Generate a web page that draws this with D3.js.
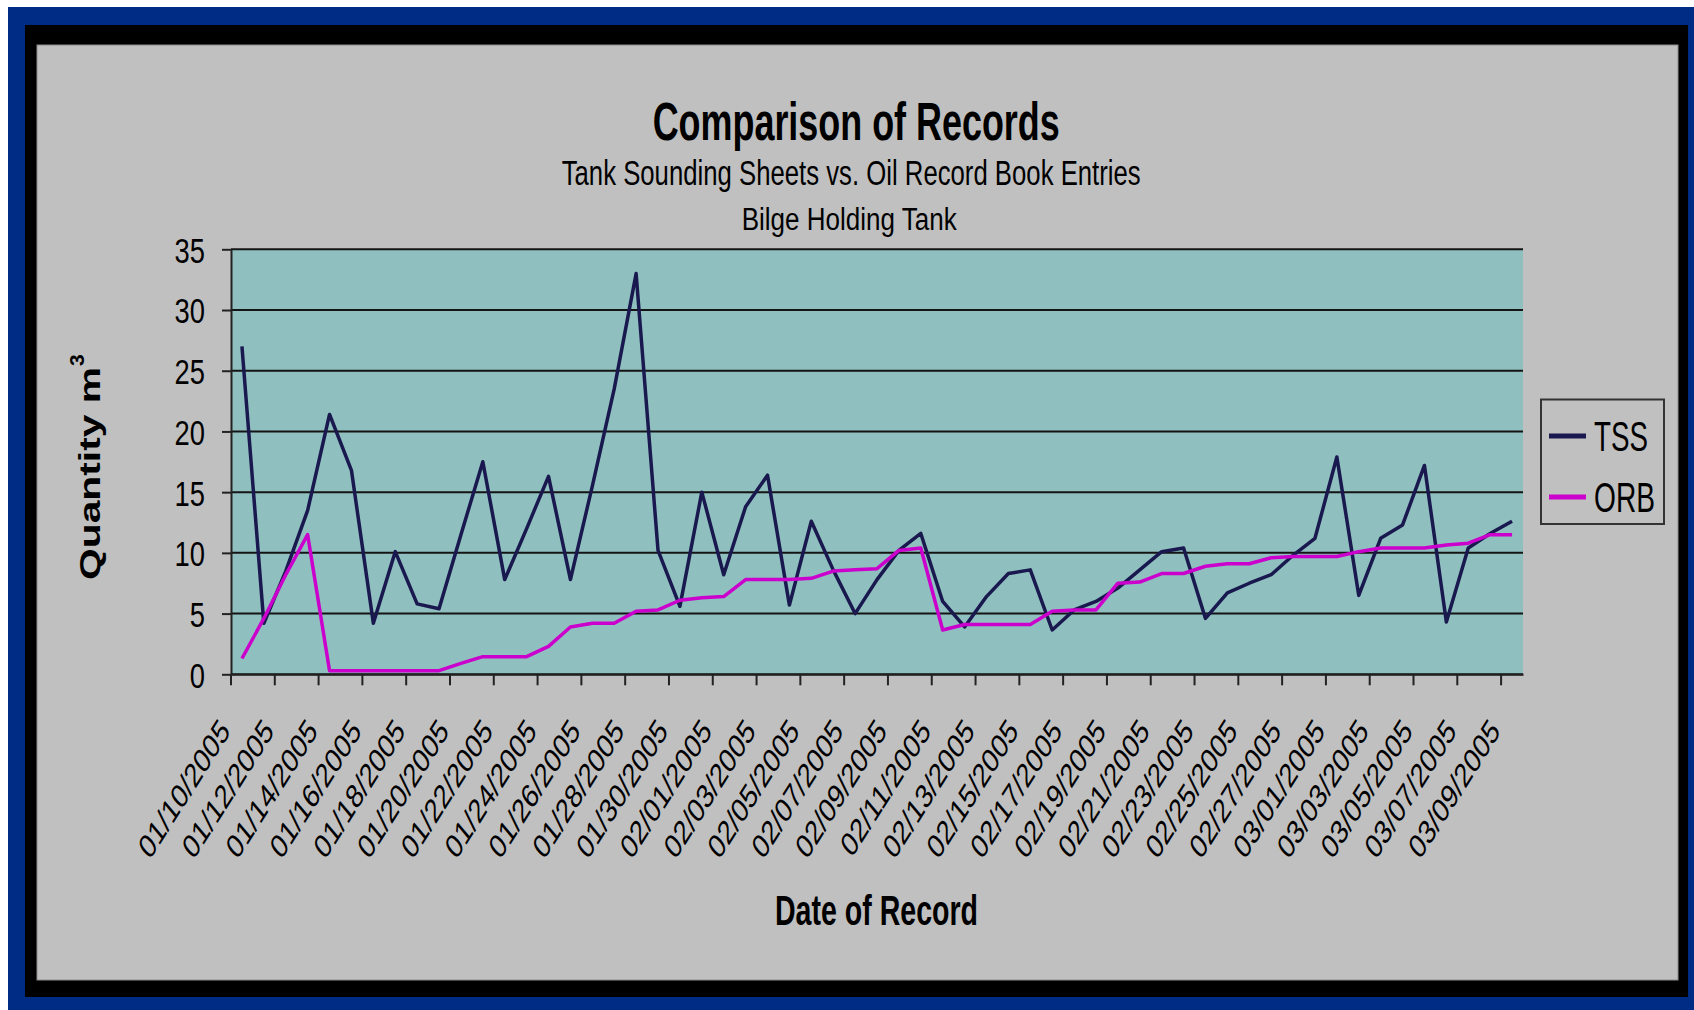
<!DOCTYPE html>
<html>
<head>
<meta charset="utf-8">
<script src="https://cdn.jsdelivr.net/npm/d3@7.9.0/dist/d3.min.js"></script>
<style>
  html, body { margin: 0; padding: 0; background: #fff; }
  svg { display: block; font-family: 'Liberation Sans', Arial, sans-serif; }
</style>
</head>
<body>
<svg id="chart" width="1694" height="1010"></svg>
<script>
// one category per day, 01/10/2005 .. 03/09/2005
const dates = [
  '01/10/2005', '01/11/2005', '01/12/2005', '01/13/2005', '01/14/2005', '01/15/2005', '01/16/2005',
  '01/17/2005', '01/18/2005', '01/19/2005', '01/20/2005', '01/21/2005', '01/22/2005', '01/23/2005',
  '01/24/2005', '01/25/2005', '01/26/2005', '01/27/2005', '01/28/2005', '01/29/2005', '01/30/2005',
  '01/31/2005', '02/01/2005', '02/02/2005', '02/03/2005', '02/04/2005', '02/05/2005', '02/06/2005',
  '02/07/2005', '02/08/2005', '02/09/2005', '02/10/2005', '02/11/2005', '02/12/2005', '02/13/2005',
  '02/14/2005', '02/15/2005', '02/16/2005', '02/17/2005', '02/18/2005', '02/19/2005', '02/20/2005',
  '02/21/2005', '02/22/2005', '02/23/2005', '02/24/2005', '02/25/2005', '02/26/2005', '02/27/2005',
  '02/28/2005', '03/01/2005', '03/02/2005', '03/03/2005', '03/04/2005', '03/05/2005', '03/06/2005',
  '03/07/2005', '03/08/2005', '03/09/2005',
];

// Tank Sounding Sheets
const tss = [
  27.0, 4.2, 8.5, 13.5, 21.4, 16.8, 4.2, 10.1, 5.8, 5.4,
  11.5, 17.5, 7.8, 12.0, 16.3, 7.8, 15.5, 23.5, 33.0, 10.2,
  5.6, 15.0, 8.2, 13.8, 16.4, 5.7, 12.6, 8.6, 5.0, 7.8,
  10.2, 11.6, 6.0, 3.9, 6.4, 8.3, 8.6, 3.65, 5.3, 6.0,
  7.1, 8.6, 10.1, 10.4, 4.6, 6.7, 7.5, 8.2, 9.8, 11.2,
  17.9, 6.5, 11.2, 12.3, 17.2, 4.3, 10.4, 11.6, 12.6,
];

// Oil Record Book
const orb = [
  1.3, 4.6, 8.2, 11.5, 0.3, 0.3, 0.3, 0.3, 0.3, 0.3,
  0.9, 1.45, 1.45, 1.45, 2.3, 3.9, 4.2, 4.2, 5.2, 5.3,
  6.1, 6.3, 6.4, 7.8, 7.8, 7.8, 7.9, 8.5, 8.6, 8.7,
  10.2, 10.4, 3.65, 4.1, 4.1, 4.1, 4.1, 5.2, 5.3, 5.3,
  7.5, 7.6, 8.3, 8.3, 8.9, 9.1, 9.1, 9.6, 9.7, 9.7,
  9.7, 10.1, 10.4, 10.4, 10.4, 10.65, 10.8, 11.5, 11.5,
];

const yTicks = [0, 5, 10, 15, 20, 25, 30, 35];
const tickLabels = dates.filter((d, i) => i % 2 === 0);
const seriesNames = ['TSS', 'ORB'];
const seriesColors = ['#19194f', '#cc00cc'];

const svg = d3.select('#chart');

// frame: blue, black, grey
svg.append('rect').attr('x', 8).attr('y', 7).attr('width', 1686).attr('height', 1003).attr('fill', '#002c86');
svg.append('rect').attr('x', 25).attr('y', 25).attr('width', 1663).attr('height', 972).attr('fill', '#000');
svg.append('rect').attr('x', 37).attr('y', 45).attr('width', 1641).attr('height', 935)
  .attr('fill', '#c0c0c0').attr('stroke', '#8c8c8c').attr('stroke-width', 1);

const plot = { left: 231, right: 1523, top: 249.3, bottom: 674.3 };

const x = d3.scaleBand().domain(dates).range([plot.left, plot.right]).padding(0);
const y = d3.scaleLinear().domain([0, 35]).range([plot.bottom, plot.top]);
const bw = x.bandwidth();

svg.append('rect')
  .attr('x', plot.left).attr('y', plot.top)
  .attr('width', plot.right - plot.left).attr('height', plot.bottom - plot.top)
  .attr('fill', '#8fbfbf');

// gridlines
svg.append('g')
  .selectAll('line')
  .data(yTicks)
  .join('line')
  .attr('x1', plot.left).attr('x2', plot.right)
  .attr('y1', (d) => y(d)).attr('y2', (d) => y(d))
  .attr('stroke', '#141414').attr('stroke-width', 2);

// y axis
const yAxis = svg.append('g')
  .attr('transform', `translate(${plot.left},0)`)
  .call(d3.axisLeft(y).tickValues(yTicks).tickSize(9).tickSizeOuter(0).tickPadding(26));
yAxis.select('.domain').attr('stroke', '#222').attr('stroke-width', 2);
yAxis.selectAll('.tick line').attr('stroke', '#222').attr('stroke-width', 2);
yAxis.selectAll('.tick text')
  .attr('font-size', 36)
  .attr('fill', '#000')
  .attr('font-family', "'Liberation Sans', Arial, sans-serif")
  .attr('x', -26 / 0.76)
  .attr('dy', '0.36em')
  .attr('transform', 'scale(0.76,1)');

// x axis, ticks sit on category boundaries
const xAxis = svg.append('g')
  .attr('transform', `translate(0,${plot.bottom})`)
  .call(d3.axisBottom(x).tickValues(tickLabels).tickSize(11).tickSizeOuter(0));
xAxis.select('.domain').attr('stroke', '#222').attr('stroke-width', 2);
xAxis.selectAll('.tick line')
  .attr('x1', -bw / 2).attr('x2', -bw / 2)
  .attr('stroke', '#222').attr('stroke-width', 2);
xAxis.selectAll('.tick text')
  .attr('font-size', 34)
  .attr('fill', '#000')
  .attr('font-family', "'Liberation Sans', Arial, sans-serif")
  .attr('text-anchor', 'end')
  .attr('x', 0).attr('y', 0).attr('dy', '0.36em')
  .attr('transform', 'translate(-17.5,50) scale(0.73,1) rotate(-49)');

// series lines
const line = d3.line()
  .x((d, i) => x(dates[i]) + bw / 2)
  .y((d) => y(d));

[tss, orb].forEach((values, k) => {
  svg.append('path')
    .datum(values)
    .attr('d', line)
    .attr('fill', 'none')
    .attr('stroke', seriesColors[k])
    .attr('stroke-width', 3.5)
    .attr('stroke-linejoin', 'round');
});

// titles
const title = svg.append('g').attr('fill', '#000');
title.append('text').attr('x', 652.7).attr('y', 140)
  .attr('font-size', 53).attr('font-weight', 'bold')
  .attr('textLength', 407).attr('lengthAdjust', 'spacingAndGlyphs')
  .text('Comparison of Records');
title.append('text').attr('x', 561.7).attr('y', 185)
  .attr('font-size', 35)
  .attr('textLength', 579).attr('lengthAdjust', 'spacingAndGlyphs')
  .text('Tank Sounding Sheets vs. Oil Record Book Entries');
title.append('text').attr('x', 741.7).attr('y', 230)
  .attr('font-size', 31)
  .attr('textLength', 215).attr('lengthAdjust', 'spacingAndGlyphs')
  .text('Bilge Holding Tank');

svg.append('text').attr('x', 775).attr('y', 925)
  .attr('font-size', 42).attr('font-weight', 'bold')
  .attr('textLength', 203).attr('lengthAdjust', 'spacingAndGlyphs')
  .text('Date of Record');

svg.append('text')
  .attr('transform', 'translate(100,580) rotate(-90)')
  .attr('font-size', 30).attr('font-weight', 'bold')
  .attr('textLength', 213).attr('lengthAdjust', 'spacingAndGlyphs')
  .text('Quantity m');
svg.append('text')
  .attr('transform', 'translate(84,366) rotate(-90)')
  .attr('font-size', 21).attr('font-weight', 'bold')
  .text('3');

// legend
const legend = svg.append('g');
legend.append('rect')
  .attr('x', 1541).attr('y', 399.5).attr('width', 123).attr('height', 124.5)
  .attr('fill', 'none').attr('stroke', '#333').attr('stroke-width', 2);

const legendY = [436, 497];
const legendTextLen = [54, 61];
seriesNames.forEach((name, k) => {
  legend.append('line')
    .attr('x1', 1549).attr('x2', 1586)
    .attr('y1', legendY[k]).attr('y2', legendY[k])
    .attr('stroke', seriesColors[k]).attr('stroke-width', 5);
  legend.append('text')
    .attr('x', 1594).attr('y', legendY[k] + 14.5)
    .attr('font-size', 43)
    .attr('textLength', legendTextLen[k]).attr('lengthAdjust', 'spacingAndGlyphs')
    .text(name);
});
</script>
</body>
</html>
